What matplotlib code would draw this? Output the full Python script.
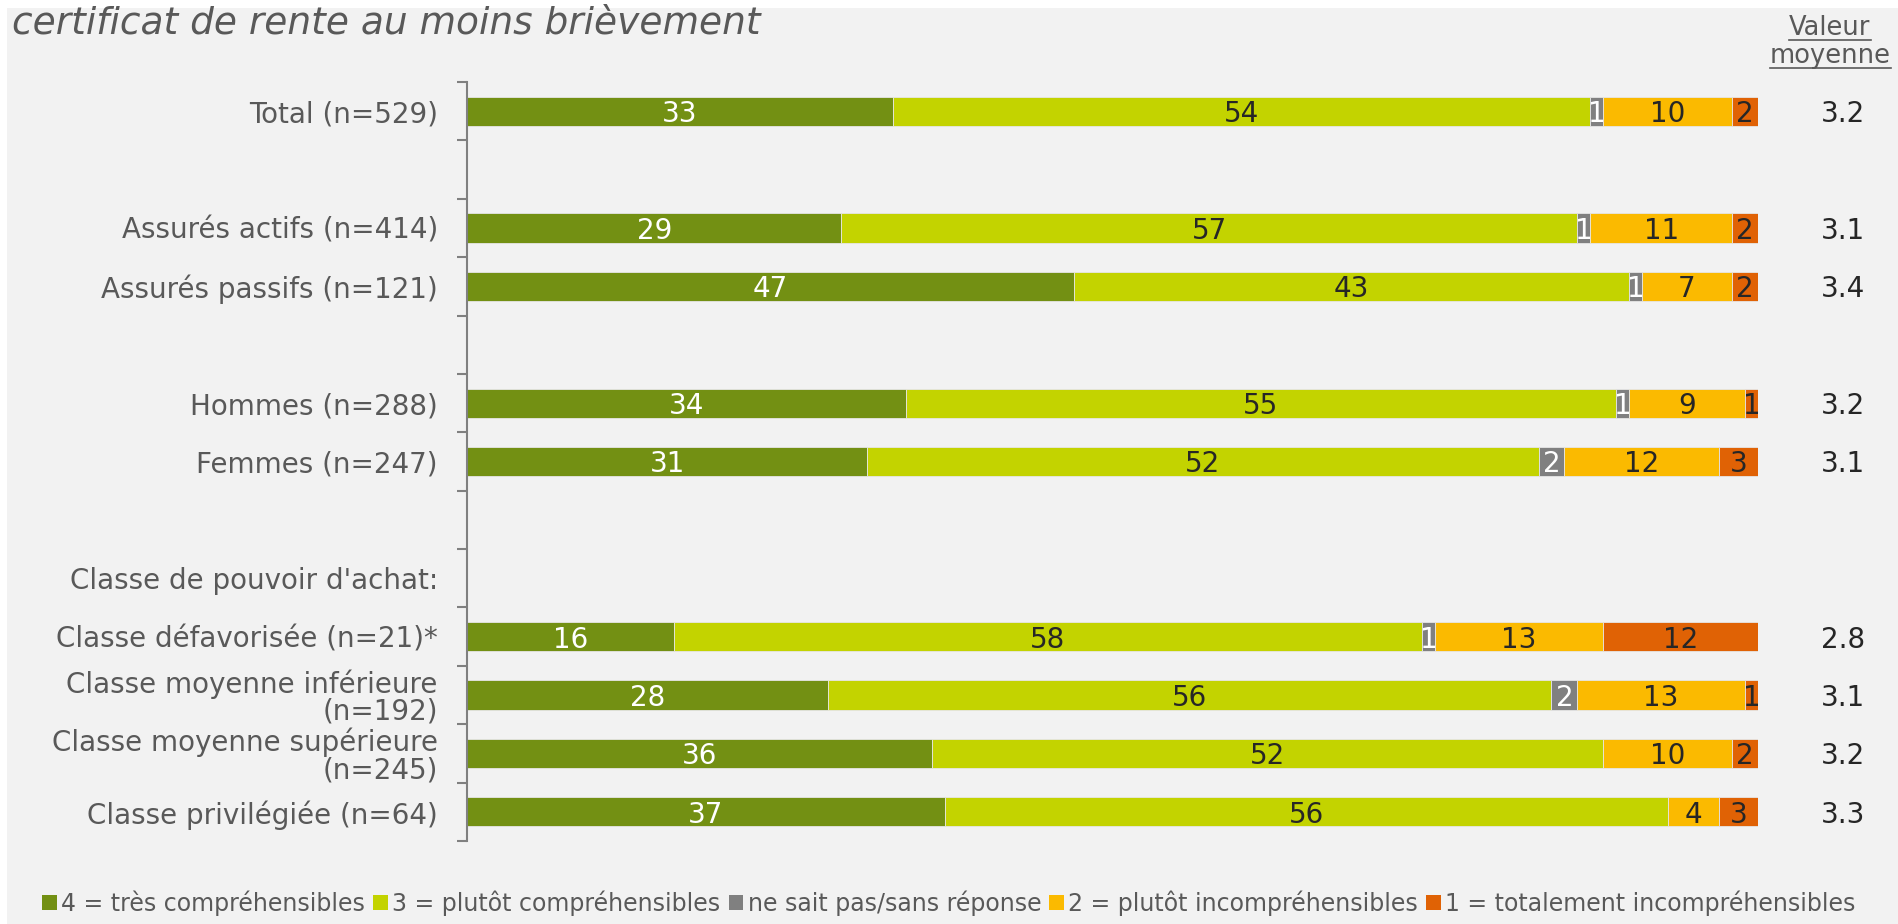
import matplotlib
matplotlib.use("Agg")
import matplotlib.pyplot as plt
from matplotlib.patches import Rectangle
from matplotlib.lines import Line2D
import numpy as np

plt.rcParams['font.family'] = ['DejaVu Sans']

# Données (en %)
categories = [
    "Total (n=529)", "",
    "Assurés actifs (n=414)", "Assurés passifs (n=121)", "",
    "Hommes (n=288)", "Femmes (n=247)", "",
    "Classe de pouvoir d'achat:",
    "Classe défavorisée (n=21)*",
    "Classe moyenne inférieure\n(n=192)",
    "Classe moyenne supérieure\n(n=245)",
    "Classe privilégiée (n=64)",
]
tres = [33, None, 29, 47, None, 34, 31, None, None, 16, 28, 36, 37]
plutot = [54, None, 57, 43, None, 55, 52, None, None, 58, 56, 52, 56]
nsp = [1, None, 1, 1, None, 1, 2, None, None, 1, 2, 0, 0]
plutot_incomp = [10, None, 11, 7, None, 9, 12, None, None, 13, 13, 10, 4]
total_incomp = [2, None, 2, 2, None, 1, 3, None, None, 12, 1, 2, 3]
moyenne = [3.2, None, 3.1, 3.4, None, 3.2, 3.1, None, None, 2.8, 3.1, 3.2, 3.3]

series_names = ["4 = très compréhensibles", "3 = plutôt compréhensibles",
                "ne sait pas/sans réponse", "2 = plutôt incompréhensibles",
                "1 = totalement incompréhensibles"]
series = [tres, plutot, nsp, plutot_incomp, total_incomp]
colors = ["#739013", "#C3D300", "#808080", "#FBBA00", "#E06205"]
text_colors = ["white", "#262626", "white", "#262626", "#262626"]

W, H = 1898, 924
fig = plt.figure(figsize=(W / 100, H / 100), dpi=100, facecolor="#F2F2F2")
# bandes blanches en haut et à gauche
fig.patches.append(Rectangle((0, 1 - 8 / H), 1, 8 / H, transform=fig.transFigure,
                             facecolor="white", edgecolor="none", zorder=0))
fig.patches.append(Rectangle((0, 0), 7 / W, 1, transform=fig.transFigure,
                             facecolor="white", edgecolor="none", zorder=0))

ax = fig.add_axes([467 / W, 1 - 841 / H, (1758 - 467) / W, (841 - 82) / H])
ax.set_facecolor("#F2F2F2")

n = len(categories)
y = np.arange(n)
mean_tr = matplotlib.transforms.blended_transform_factory(fig.transFigure, ax.transData)
for i in range(n):
    if tres[i] is None:
        continue
    left = 0
    for s, col, tcol in zip(series, colors, text_colors):
        v = s[i]
        if v > 0:
            ax.barh(y[i], v, left=left, height=0.5, color=col,
                    edgecolor="#e6e6e6", linewidth=0.6)
            ax.text(left + v / 2, y[i], str(v), ha="center", va="center_baseline",
                    fontsize=20, color=tcol)
        left += v
    ax.text(1843 / W, y[i], f"{moyenne[i]:.1f}", ha="center", va="center_baseline",
            fontsize=20, color="#262626", transform=mean_tr)

ax.set_xlim(0, 100)
ax.set_ylim(n - 0.5, -0.5)
ax.set_xticks([])
ax.set_yticks(np.arange(n + 1) - 0.5)
ax.set_yticklabels([])
ax.set_yticks(y, minor=True)
ax.set_yticklabels(categories, minor=True, fontsize=20, color="#595959")
ax.tick_params(axis="y", which="major", length=7, width=1.5, color="#808080")
ax.tick_params(axis="y", which="minor", length=0, pad=21)
for lab in ax.get_yticklabels(minor=True):
    lab.set_linespacing(0.95)
for sp in ["top", "right", "bottom"]:
    ax.spines[sp].set_visible(False)
ax.spines["left"].set_color("#808080")
ax.spines["left"].set_linewidth(1.5)

fig.text(12 / W, 1 - 33 / H, "certificat de rente au moins brièvement",
         fontsize=27, style="italic", color="#595959", va="baseline", ha="left")

t1 = fig.text(1830 / W, 1 - 28 / H, "Valeur", fontsize=18.5, color="#595959",
              ha="center", va="center")
t2 = fig.text(1830 / W, 1 - 56 / H, "moyenne", fontsize=18.5, color="#595959",
              ha="center", va="center")

handles = [Rectangle((0, 0), 1, 1, facecolor=c, edgecolor="none") for c in colors]
fig.legend(handles, series_names, loc="center", bbox_to_anchor=(0.5, 1 - 903 / H),
           ncol=5, frameon=False, fontsize=17, handlelength=0.6, handleheight=0.6,
           handletextpad=0.2, columnspacing=0.35, labelcolor="#595959",
           borderpad=0, borderaxespad=0)

# soulignement de l'en-tête
fig.canvas.draw()
r = fig.canvas.get_renderer()
for t in (t1, t2):
    bb = t.get_window_extent(r)
    yl = bb.y0 + 1
    fig.lines.append(Line2D([bb.x0 / W, bb.x1 / W], [yl / H, yl / H],
                            transform=fig.transFigure, color="#595959", linewidth=1.2))

fig.savefig("out.png", dpi=100, facecolor=fig.get_facecolor())
